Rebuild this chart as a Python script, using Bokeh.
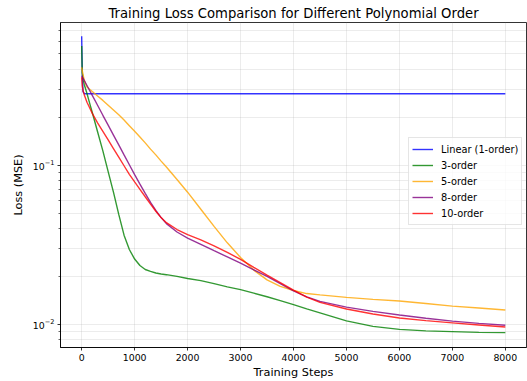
from bokeh.plotting import figure
from bokeh.models import Range1d, Legend, LegendItem, FixedTicker
from bokeh.embed import file_html
from bokeh.resources import INLINE

# ---- data ----
steps = [0, 10, 25, 50, 100, 150, 200, 300, 400, 500, 600, 700, 800, 900,
         1000, 1100, 1200, 1300, 1400, 1500, 1600, 1800, 2000, 2250, 2500,
         2750, 3000, 3250, 3500, 3750, 4000, 4250, 4500, 5000, 5500, 6000,
         6500, 7000, 7500, 8000]

loss_linear = [0.645, 0.40, 0.29, 0.281, 0.281, 0.281, 0.281, 0.281, 0.281, 0.281,
               0.281, 0.281, 0.281, 0.281, 0.281, 0.281, 0.281, 0.281, 0.281, 0.281,
               0.281, 0.281, 0.281, 0.281, 0.281, 0.281, 0.281, 0.281, 0.281, 0.281,
               0.281, 0.281, 0.281, 0.281, 0.281, 0.281, 0.281, 0.281, 0.281, 0.281]

loss_3 = [0.56, 0.38, 0.35, 0.32, 0.282, 0.245, 0.214, 0.162, 0.123, 0.091,
          0.0676, 0.049, 0.0363, 0.0295, 0.0257, 0.0234, 0.0221, 0.0215, 0.0210, 0.0207,
          0.0205, 0.0200, 0.0194, 0.0188, 0.0180, 0.0172, 0.0165, 0.0157, 0.0149, 0.0141,
          0.0133, 0.0125, 0.0118, 0.0105, 0.0097, 0.0093, 0.0091, 0.0090, 0.0089, 0.00887]

loss_5 = [0.411, 0.394, 0.372, 0.340, 0.310, 0.300, 0.290, 0.272, 0.255, 0.238,
          0.222, 0.207, 0.192, 0.177, 0.163, 0.150, 0.138, 0.126, 0.116, 0.106,
          0.0973, 0.0813, 0.0676, 0.0528, 0.0412, 0.0325, 0.0263, 0.0219, 0.0190, 0.0173,
          0.0163, 0.0156, 0.0153, 0.01476, 0.01435, 0.0140, 0.0135, 0.0130, 0.01265, 0.0123]

loss_8 = [0.3648, 0.3597, 0.3516, 0.3396, 0.3162, 0.2944, 0.2742, 0.2377, 0.2056, 0.1782,
          0.1545, 0.1340, 0.1159, 0.1005, 0.0871, 0.0759, 0.0664, 0.0583, 0.0519, 0.0468,
          0.0429, 0.0380, 0.0348, 0.0318, 0.0290, 0.0265, 0.0242, 0.0220, 0.0200, 0.0180,
          0.0162, 0.01486, 0.01393, 0.01282, 0.01205, 0.01143, 0.01091, 0.01047, 0.01014, 0.00986]

loss_10 = [0.3565, 0.3162, 0.2951, 0.2754, 0.2483, 0.2291, 0.2113, 0.1845, 0.1629, 0.1439,
           0.1271, 0.1122, 0.0991, 0.0875, 0.0785, 0.0705, 0.0633, 0.0569, 0.0513, 0.0468,
           0.0435, 0.0394, 0.0366, 0.0339, 0.0311, 0.0283, 0.0256, 0.0228, 0.0204, 0.0183,
           0.0164, 0.0148, 0.01374, 0.01247, 0.01161, 0.01096, 0.01054, 0.01021, 0.00991, 0.00962]

series_names = ["Linear (1-order)", "3-order", "5-order", "8-order", "10-order"]
series_values = [loss_linear, loss_3, loss_5, loss_8, loss_10]
series_colors = ["#0000ff", "#008000", "#ffa500", "#800080", "#ff0000"]

x_ticks = [0, 1000, 2000, 3000, 4000, 5000, 6000, 7000, 8000]
y_major_ticks = [0.01, 0.1]
y_minor_ticks = [m * 10.0 ** e for e in (-3, -2, -1) for m in range(2, 10)]

FONT = "DejaVu Sans"

p = figure(width=527, height=381, y_axis_type="log",
           x_range=Range1d(-400, 8400), y_range=Range1d(0.00715, 0.787),
           output_backend="svg", toolbar_location=None,
           min_border_left=60, min_border_right=1, min_border_top=22,
           min_border_bottom=33,
           title="Training Loss Comparison for Different Polynomial Order")

p.title.text_font = FONT
p.title.text_font_size = "13.2px"
p.title.text_font_style = "normal"
p.title.align = "center"
p.title.standoff = 3
p.title.text_color = "#000000"

p.outline_line_color = "#000000"
p.outline_line_width = 0.8
p.background_fill_color = "white"
p.border_fill_color = "white"

items = []
for name, vals, col in zip(series_names, series_values, series_colors):
    r = p.line(steps, vals, line_color=col, line_alpha=0.8, line_width=1.4)
    items.append(LegendItem(label=name, renderers=[r]))

# axes
p.xaxis.ticker = FixedTicker(ticks=x_ticks)
p.yaxis.ticker = FixedTicker(ticks=y_major_ticks, minor_ticks=y_minor_ticks)
for ax in (p.xaxis[0], p.yaxis[0]):
    ax.axis_line_color = "#000000"
    ax.axis_line_width = 0.8
    ax.major_tick_line_color = "#000000"
    ax.major_tick_line_width = 0.8
    ax.major_tick_out = 3
    ax.major_tick_in = 0
    ax.minor_tick_line_color = "#000000"
    ax.minor_tick_line_width = 0.6
    ax.minor_tick_out = 2
    ax.minor_tick_in = 0
    ax.major_label_text_font = FONT
    ax.major_label_text_font_size = "9.4px"
    ax.major_label_text_color = "#000000"
    ax.major_label_standoff = 3
    ax.axis_label_text_font = FONT
    ax.axis_label_text_font_size = "11.3px"
    ax.axis_label_text_font_style = "normal"
    ax.axis_label_text_color = "#000000"
p.xaxis.minor_tick_line_color = None
p.xaxis.axis_label = "Training Steps"
p.yaxis.axis_label = "Loss (MSE)"
p.xaxis.axis_label_standoff = 2
p.yaxis.axis_label_standoff = 5

# grid (major + minor, light)
p.xgrid.grid_line_color = "#b0b0b0"
p.xgrid.grid_line_alpha = 0.3
p.xgrid.grid_line_width = 0.8
p.ygrid.grid_line_color = "#b0b0b0"
p.ygrid.grid_line_alpha = 0.3
p.ygrid.grid_line_width = 0.8
p.ygrid.minor_grid_line_color = "#b0b0b0"
p.ygrid.minor_grid_line_alpha = 0.3
p.ygrid.minor_grid_line_width = 0.8

legend = Legend(items=items, location=(348, 122))
legend.label_text_font = FONT
legend.label_text_font_size = "9.8px"
legend.label_text_color = "#000000"
legend.glyph_width = 21
legend.glyph_height = 16
legend.label_height = 16
legend.label_standoff = 8
legend.spacing = 0
legend.padding = 3
legend.margin = 0
legend.border_line_color = "#cccccc"
legend.border_line_width = 1
legend.background_fill_alpha = 0.8
p.add_layout(legend)

open("out.html", "w").write(file_html(p, INLINE))
